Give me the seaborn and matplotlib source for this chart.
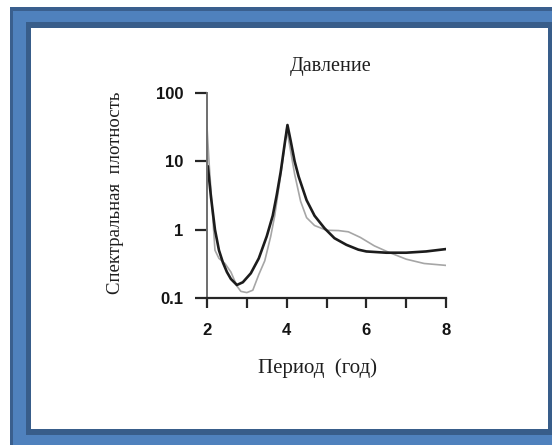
import numpy as np
import pandas as pd
import matplotlib
matplotlib.use("Agg")
import matplotlib.pyplot as plt
from matplotlib.patches import Rectangle
from matplotlib.ticker import FixedLocator, FixedFormatter, NullLocator
import seaborn as sns

# ---- data ----
black_period = [2.02, 2.10, 2.20, 2.30, 2.40, 2.50, 2.60, 2.75, 2.90, 3.10, 3.30, 3.50,
                3.65, 3.75, 3.85, 3.95, 4.02, 4.10, 4.20, 4.30, 4.50, 4.70, 4.95, 5.20,
                5.50, 5.80, 6.00, 6.50, 7.00, 7.50, 8.00]
black_value = [8.5, 3.0, 1.0, 0.5, 0.33, 0.24, 0.19, 0.155, 0.17, 0.23, 0.38, 0.8,
               1.6, 3.2, 7.0, 18.0, 34.0, 20.0, 10.0, 6.0, 2.7, 1.6, 1.05, 0.75,
               0.6, 0.51, 0.48, 0.46, 0.46, 0.48, 0.52]

grey_period = [2.00, 2.05, 2.12, 2.20, 2.30, 2.45, 2.60, 2.75, 2.85, 3.00, 3.15, 3.30,
               3.45, 3.60, 3.70, 3.80, 3.90, 4.00, 4.10, 4.20, 4.35, 4.50, 4.70, 5.00,
               5.30, 5.55, 5.85, 6.20, 6.55, 7.00, 7.45, 8.00]
grey_value = [32.0, 10.0, 2.5, 0.5, 0.38, 0.32, 0.24, 0.15, 0.125, 0.12, 0.13, 0.22,
              0.35, 0.8, 1.6, 4.0, 10.0, 30.0, 14.0, 6.5, 2.6, 1.5, 1.15, 0.98,
              0.97, 0.93, 0.77, 0.58, 0.47, 0.37, 0.32, 0.30]

x_ticks = [2, 3, 4, 5, 6, 7, 8]
x_tick_labels = ["2", "", "4", "", "6", "", "8"]
y_ticks = [0.1, 1, 10, 100]
y_tick_labels = ["0.1", "1", "10", "100"]

title = "Давление"
x_label = "Период  (год)"
y_label = "Спектральная  плотность"

# ---- styling ----
sns.set_style("white")
plt.rcParams["font.family"] = ["Liberation Sans", "DejaVu Sans"]

W, H = 552, 445
fig = plt.figure(figsize=(W / 100, H / 100), dpi=100, facecolor="white")

def px_rect(x0, y0, x1, y1, color):
    fig.patches.append(Rectangle((x0 / W, 1 - y1 / H), (x1 - x0) / W, (y1 - y0) / H,
                                 transform=fig.transFigure, facecolor=color,
                                 edgecolor="none", zorder=-10))

px_rect(10, 7, 620, 520, "#3a5f8e")
px_rect(13, 11, 620, 520, "#4f81bd")
px_rect(26, 22, 553, 435, "#385d8a")
px_rect(31, 28, 548, 429, "white")

ax = fig.add_axes([207 / W, 1 - 298 / H, (446 - 207) / W, (298 - 93) / H])
ax.set_zorder(5)
ax.patch.set_alpha(0)

sns.lineplot(x=grey_period, y=grey_value, ax=ax, color="#a6a6a6", linewidth=1.2)
sns.lineplot(x=black_period, y=black_value, ax=ax, color="#1c1c1c", linewidth=1.9)

ax.set_yscale("log")
ax.set_xlim(2, 8)
ax.set_ylim(0.1, 100)

ax.xaxis.set_major_locator(FixedLocator(x_ticks))
ax.xaxis.set_major_formatter(FixedFormatter(x_tick_labels))
ax.yaxis.set_major_locator(FixedLocator(y_ticks))
ax.yaxis.set_major_formatter(FixedFormatter(y_tick_labels))
ax.yaxis.set_minor_locator(NullLocator())
ax.xaxis.set_minor_locator(NullLocator())

for s in ["top", "right"]:
    ax.spines[s].set_visible(False)
ax.spines["left"].set_color("#6e6e6e")
ax.spines["left"].set_linewidth(1.4)
ax.spines["bottom"].set_color("#262626")
ax.spines["bottom"].set_linewidth(1.6)

ax.tick_params(axis="x", bottom=True, direction="out", length=7, width=1.6,
               color="#262626", pad=11, labelsize=12, labelcolor="#141414")
ax.tick_params(axis="y", left=True, direction="out", length=9, width=1.6,
               color="#262626", pad=8, labelsize=12, labelcolor="#141414")
for lab in ax.get_xticklabels() + ax.get_yticklabels():
    lab.set_fontweight("bold")

serif = ["Liberation Serif", "DejaVu Serif"]
ax.set_title(title, x=(331 - 207) / 239, y=(298 - 75) / 205, va="center",
             fontsize=14.5, family=serif, color="#1e1e1e")
ax.set_xlabel(x_label, fontsize=15, family=serif, color="#1e1e1e")
ax.xaxis.set_label_coords((317 - 207) / 239, (298 - 368) / 205)
ax.xaxis.label.set_va("center")
ax.set_ylabel(y_label, fontsize=13.5, family=serif, color="#1e1e1e")
ax.yaxis.set_label_coords((116 - 207) / 239, (298 - 193) / 205)
ax.yaxis.label.set_va("center")

fig.savefig("out.png", dpi=100, facecolor="white")
